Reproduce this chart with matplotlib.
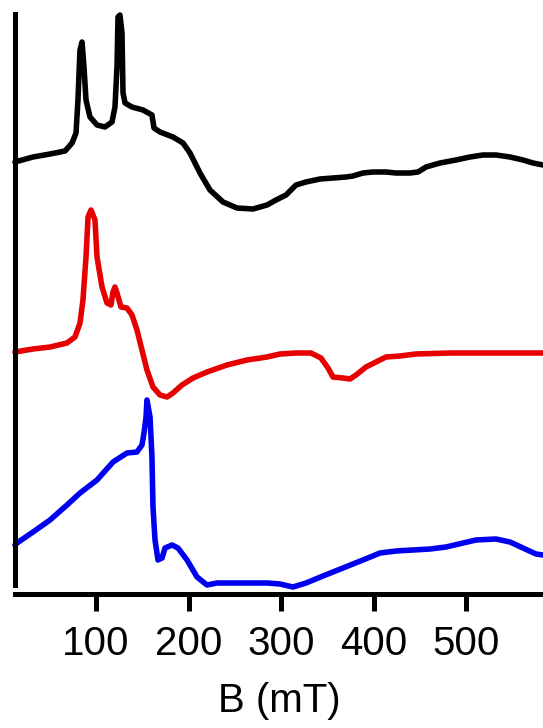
import numpy as np
import matplotlib.pyplot as plt

# field axis (mT) and derivative intensities (a.u., relative to each baseline)
b_black = [12.4, 31.9, 50.3, 66.5, 74.1, 78.4, 80.5, 82.7, 84.9, 87.0, 89.2, 93.5,
           101.1, 109.7, 117.3, 120.5, 122.7, 123.8, 125.9, 128.1, 129.2, 131.4,
           138.9, 150.8, 160.5, 162.7, 169.2, 183.2, 194.1, 201.6, 212.4, 223.2,
           237.3, 252.4, 269.7, 284.9, 294.6, 305.4, 316.2, 327.0, 342.2, 356.2,
           370.3, 377.8, 388.6, 399.5, 413.5, 424.3, 439.5, 448.1, 456.8, 471.9,
           489.2, 504.3, 518.4, 532.4, 547.6, 561.6, 572.4, 583.2]
i_black = [-2, 3, 6, 9, 17, 27, 60, 110, 118, 93, 60, 43,
           35, 33, 38, 53, 93, 143, 145, 127, 67, 57,
           53, 50, 45, 32, 28, 23, 17, 7, -13, -30,
           -42, -48, -49, -45, -40, -35, -25, -22, -19, -18,
           -17, -16, -13, -12, -12, -13, -13, -12, -7, -3,
           0, 3, 5, 5, 3, 0, -3, -5]

b_red = [12.4, 31.9, 50.3, 68.6, 77.3, 82.7, 85.9, 89.2, 91.4, 94.6, 98.9, 101.1,
         106.5, 111.9, 116.2, 118.4, 120.5, 122.7, 127.0, 133.5, 138.9, 144.3,
         149.7, 155.1, 161.6, 169.2, 176.8, 183.2, 193.0, 204.9, 220.0, 241.6,
         263.2, 284.9, 298.9, 316.2, 332.4, 343.2, 350.8, 356.2, 367.0, 374.6,
         381.1, 391.9, 402.7, 413.5, 428.6, 445.9, 482.7, 583.2]
i_red = [0, 3, 5, 9, 15, 29, 52, 95, 135, 142, 132, 95,
         65, 49, 47, 60, 65, 59, 45, 44, 37, 22,
         2, -18, -35, -43, -45, -41, -33, -26, -20, -13,
         -8, -5, -2, -1, -1, -6, -16, -25, -26, -27,
         -23, -15, -10, -5, -4, -2, -1, -1]

b_blue = [12.4, 14.6, 31.9, 50.3, 68.6, 82.7, 101.1, 118.4, 133.5, 144.3, 149.7,
          151.9, 154.1, 155.1, 158.4, 160.5, 161.6, 163.8, 167.0, 171.4, 174.6,
          182.2, 188.6, 198.4, 209.2, 220.0, 230.8, 248.1, 266.5, 284.9, 298.9,
          312.9, 327.0, 345.4, 367.0, 388.6, 407.0, 424.3, 442.7, 461.1, 478.4,
          496.8, 510.8, 532.4, 547.6, 561.6, 575.7, 583.2]
i_blue = [-2, 0, 11, 23, 38, 50, 63, 81, 90, 91, 98,
          110, 126, 143, 126, 86, 36, 3, -17, -15, -5,
          -2, -5, -17, -34, -42, -40, -40, -40, -40, -41,
          -44, -40, -33, -25, -17, -10, -8, -7, -6, -4,
          0, 3, 4, 1, -5, -11, -12]

xticks = [100, 200, 300, 400, 500]

# vertical stacking of the three spectra
offsets = {'black': 425, 'red': 233, 'blue': 42}

plt.rcParams['font.family'] = ['Liberation Sans', 'DejaVu Sans']

fig = plt.figure(figsize=(5.43, 7.28), dpi=100)
ax = fig.add_axes([15/543, 143/728, 528/543, 571/728])

lw = 4.0
for b, i, key, col in [(b_black, i_black, 'black', 'black'),
                       (b_red, i_red, 'red', '#e60000'),
                       (b_blue, i_blue, 'blue', '#0000f0')]:
    ax.plot(b, np.array(i) + offsets[key], color=col, lw=lw, clip_on=False,
            solid_joinstyle='round', solid_capstyle='round')

ax.set_xlim(12.43, 583.24)
ax.set_ylim(0, 571)

ax.spines['top'].set_visible(False)
ax.spines['right'].set_visible(False)
ax.spines['left'].set_linewidth(3.6)
ax.spines['bottom'].set_linewidth(3.6)
ax.spines['bottom'].set_position(('outward', 6.5))

ax.set_yticks([])
ax.set_xticks(xticks)
ax.tick_params(axis='x', direction='out', length=12, width=3.6, labelsize=29, pad=10)
ax.set_xlabel('B (mT)', fontsize=29, labelpad=14)

fig.savefig('out.png', dpi=100)
plt.close(fig)
